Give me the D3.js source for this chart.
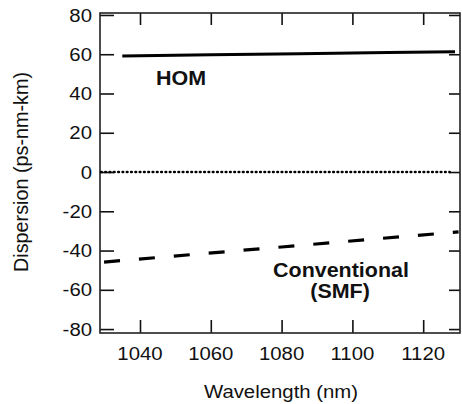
<!DOCTYPE html>
<html><head><meta charset="utf-8">
<script src="https://cdn.jsdelivr.net/npm/d3@7"></script>
<style>html,body{margin:0;padding:0;background:#fff;}svg{display:block;}text{font-family:"Liberation Sans",Arial,sans-serif;fill:#111;}</style>
</head><body>
<svg id="c" width="462" height="404"></svg>
<script>
const xTicks = [1040, 1060, 1080, 1100, 1120];
const yTicks = [-80, -60, -40, -20, 0, 20, 40, 60, 80];
const homX = [1035, 1060, 1085, 1110, 1129];
const homY = [59.1, 59.7, 60.3, 60.9, 61.3];
const smfX = [1029, 1055, 1080, 1105, 1130];
const smfY = [-46, -42, -38.2, -34.3, -30.5];
const zeroX = [1029, 1127.5];
const zeroY = [0, 0];
const labels = ["HOM", "Conventional", "(SMF)"];

const svg = d3.select("#c");
const x = d3.scaleLinear().domain([1028.7, 1130.4]).range([100, 460]);
const y = d3.scaleLinear().domain([-82, 81]).range([333, 13]);
const L = 100, R = 460, T = 13, B = 333;
const SX = 1.1;

function txt(px, py, s, size, anchor, bold) {
  const t = svg.append("g").attr("transform", `translate(${px},${py}) scale(${SX},1)`)
    .append("text").attr("font-size", size).attr("text-anchor", anchor || "start").text(s);
  if (bold) t.attr("font-weight", "bold");
  return t;
}

// axes with inward ticks
const gL = svg.append("g").attr("transform", `translate(${L},0)`)
  .call(d3.axisRight(y).tickValues(yTicks).tickSize(14).tickFormat(""));
const gR = svg.append("g").attr("transform", `translate(${R},0)`)
  .call(d3.axisLeft(y).tickValues(yTicks).tickSize(11).tickFormat(""));
const gB = svg.append("g").attr("transform", `translate(0,${B})`)
  .call(d3.axisTop(x).tickValues(xTicks).tickSize(13).tickFormat(""));
const gT = svg.append("g").attr("transform", `translate(0,${T})`)
  .call(d3.axisBottom(x).tickValues(xTicks).tickSize(12).tickFormat(""));
[gL, gR, gB, gT].forEach(g => {
  g.select(".domain").remove();
  g.selectAll(".tick line").attr("stroke", "#111").attr("stroke-width", 1.6);
});
svg.append("rect").attr("x", L).attr("y", T).attr("width", R - L).attr("height", B - T)
  .attr("fill", "none").attr("stroke", "#222").attr("stroke-width", 1.6);

// tick labels
yTicks.forEach(d => txt(92, y(d) + 6.6, d, 18.5, "end"));
xTicks.forEach(d => txt(x(d), 360, d, 18.5, "middle"));

// axis titles
txt(281, 398, "Wavelength (nm)", 18.5, "middle");
svg.append("text").attr("transform", `translate(28,${y(0)}) rotate(-90)`)
  .attr("text-anchor", "middle").attr("font-size", 19.8).text("Dispersion (ps-nm-km)");

const line = d3.line().x(d => x(d[0])).y(d => y(d[1]));
svg.append("path").datum(homX.map((v, i) => [v, homY[i]])).attr("d", line)
  .attr("fill", "none").attr("stroke", "#000").attr("stroke-width", 3);
svg.append("path").datum(zeroX.map((v, i) => [v, zeroY[i]])).attr("d", line)
  .attr("fill", "none").attr("stroke", "#000").attr("stroke-width", 2.6)
  .attr("stroke-dasharray", "0.6,3.7").attr("stroke-linecap", "round");
svg.append("path").datum(smfX.map((v, i) => [v, smfY[i]])).attr("d", line)
  .attr("fill", "none").attr("stroke", "#000").attr("stroke-width", 3.2)
  .attr("stroke-dasharray", "16,19").attr("stroke-dashoffset", -3);

// labels
txt(156, 85, labels[0], 19.5, "start", true);
txt(341, 277, labels[1], 19.5, "middle", true);
txt(340, 298, labels[2], 19.5, "middle", true);
</script>
</body></html>
